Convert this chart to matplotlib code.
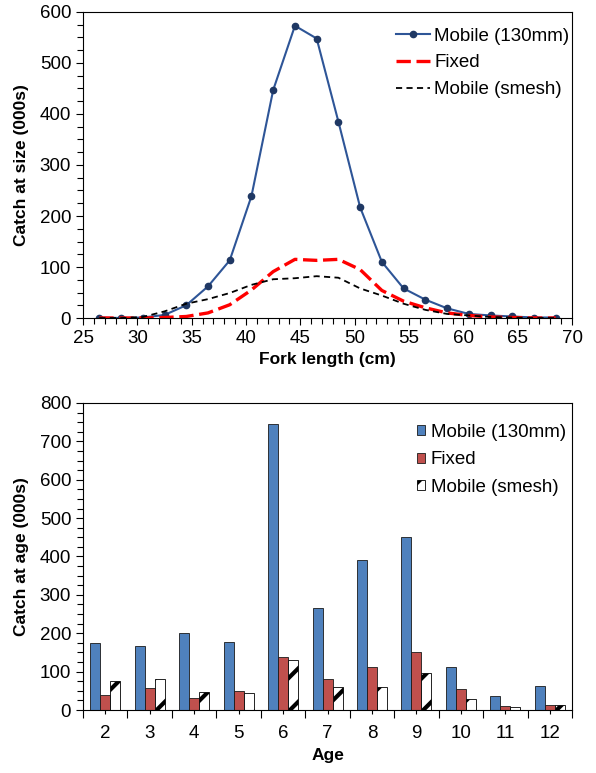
import numpy as np
import matplotlib
matplotlib.use('Agg')
import matplotlib.pyplot as plt
from matplotlib.ticker import MultipleLocator, FixedLocator

plt.rcParams['font.family'] = ['Liberation Sans', 'DejaVu Sans']
plt.rcParams['hatch.linewidth'] = 3.0

# catch at size (fork length midpoints, cm)
length = [26.5, 28.5, 30.5, 32.5, 34.5, 36.5, 38.5, 40.5, 42.5, 44.5, 46.5,
          48.5, 50.5, 52.5, 54.5, 56.5, 58.5, 60.5, 62.5, 64.5, 66.5, 68.5]
size_mobile = [1, 0, 1, 6, 25, 62, 113, 239, 447, 573, 548,
               385, 217, 110, 58, 36, 19, 8, 5, 3, 1, 1]
size_fixed = [0, 0, 0, 1, 3, 10, 26, 55, 91, 115, 113,
              115, 95, 54, 33, 20, 10, 5, 2, 1, 0, 0]
size_smesh = [0, 0, 2, 13, 28, 37, 49, 65, 76, 78, 82,
              79, 58, 44, 28, 16, 8, 5, 2, 1, 0, 0]

# catch at age
ages = ['2', '3', '4', '5', '6', '7', '8', '9', '10', '11', '12']
age_mobile = [174, 168, 200, 176, 746, 266, 392, 451, 113, 36, 63]
age_fixed = [39, 57, 31, 49, 137, 82, 113, 150, 55, 10, 13]
age_smesh = [76, 82, 47, 44, 129, 60, 60, 97, 29, 7, 13]

fig = plt.figure(figsize=(5.96, 7.73), dpi=100)
ax1 = fig.add_axes([0.1393, 0.5886, 0.8205, 0.3959])
ax2 = fig.add_axes([0.1393, 0.0815, 0.8205, 0.3972])

fs = 13.5

# top panel
ax1.plot(length, size_mobile, color='#2E5597', lw=1.5, marker='o', ms=4.5,
         mfc='#1F3864', mec='#1F3864', label='Mobile (130mm)')
ax1.plot(length, size_fixed, color='#FF0000', lw=2.4, dashes=(4.3, 1.7),
         label='Fixed')
ax1.plot(length, size_smesh, color='black', lw=1.3, dashes=(3.4, 2.4),
         label='Mobile (smesh)')
ax1.set_xlim(25, 70)
ax1.set_ylim(0, 600)
ax1.xaxis.set_major_locator(MultipleLocator(5))
ax1.xaxis.set_minor_locator(MultipleLocator(1))
ax1.yaxis.set_major_locator(MultipleLocator(100))
ax1.yaxis.set_minor_locator(MultipleLocator(25))
ax1.set_xlabel('Fork length (cm)', fontsize=12.5, fontweight='bold', labelpad=4)
ax1.set_ylabel('Catch at size (000s)', fontsize=12.5, fontweight='bold', labelpad=8)
ax1.legend(loc='upper left', bbox_to_anchor=(0.64, 0.949), frameon=False,
           fontsize=fs, borderpad=0, labelspacing=0.51, handlelength=1.8,
           handletextpad=0.25, borderaxespad=0)

# bottom panel
x = np.arange(len(ages))
w = 0.225
ax2.bar(x - w, age_mobile, w, color='#4F81BD', edgecolor='#1a1a1a', lw=0.6,
        label='Mobile (130mm)')
ax2.bar(x, age_fixed, w, color='#C0504D', edgecolor='#1a1a1a', lw=0.6,
        label='Fixed')
ax2.bar(x + w, age_smesh, w, color='white', edgecolor='black', lw=0.6,
        hatch='/', label='Mobile (smesh)')
ax2.set_xlim(-0.5, len(ages) - 0.5)
ax2.set_ylim(0, 800)
ax2.set_xticks(x)
ax2.set_xticklabels(ages)
ax2.xaxis.set_minor_locator(FixedLocator(np.arange(-0.5, len(ages), 1.0)))
ax2.yaxis.set_major_locator(MultipleLocator(100))
ax2.yaxis.set_minor_locator(MultipleLocator(25))
ax2.set_xlabel('Age', fontsize=12.5, fontweight='bold', labelpad=4)
ax2.set_ylabel('Catch at age (000s)', fontsize=12.5, fontweight='bold', labelpad=8)
ax2.legend(loc='upper left', bbox_to_anchor=(0.682, 0.932), frameon=False,
           fontsize=fs, borderpad=0, labelspacing=0.56, handlelength=0.45,
           handleheight=0.45, handletextpad=0.3, borderaxespad=0)

for ax in (ax1, ax2):
    ax.tick_params(axis='both', which='major', labelsize=fs, direction='out',
                   length=5, width=0.8)
    ax.tick_params(axis='both', which='minor', direction='out', length=4,
                   width=0.8)
    for sp in ax.spines.values():
        sp.set_linewidth(0.8)
ax2.tick_params(axis='x', which='major', length=3, pad=8)
ax2.tick_params(axis='x', which='minor', length=6)

fig.savefig('out.png', dpi=100)
